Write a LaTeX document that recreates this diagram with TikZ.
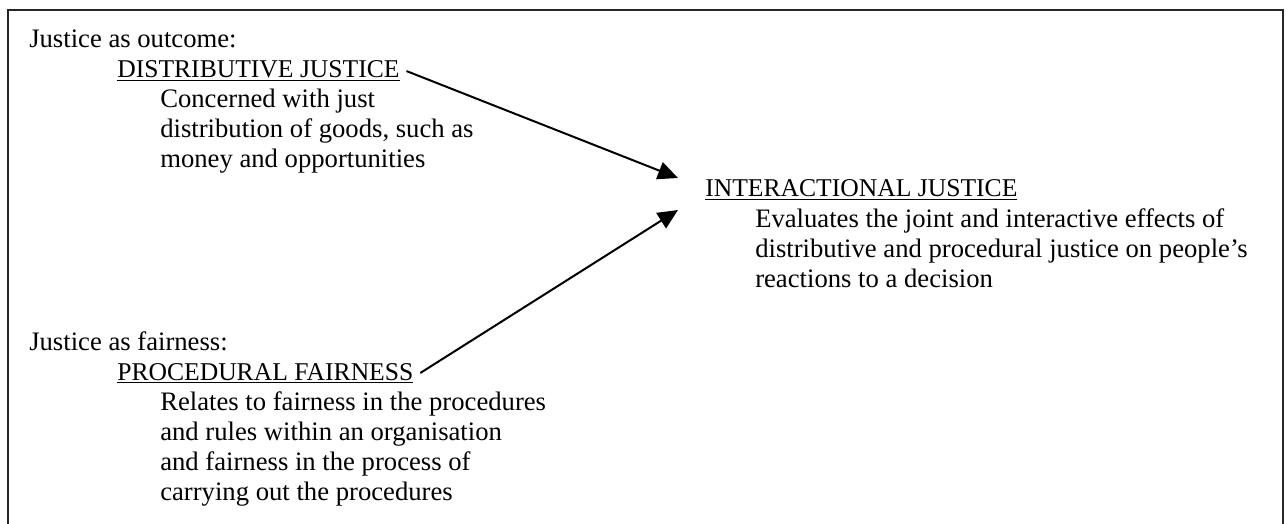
\documentclass[tikz,border=0pt]{standalone}
\usepackage{fontspec}
\setmainfont{Liberation Serif}
\usetikzlibrary{arrows.meta}
\begin{document}
\begin{tikzpicture}[x=0.75pt,y=-0.75pt,
  txt/.style={anchor=base west,inner sep=0pt,font=\fontsize{20}{22.5}\selectfont},
  head/.style={txt,font=\fontsize{19.2}{22.5}\selectfont},
  body/.style={txt,align=left},
  frame/.style={line width=1.4pt,draw=black!85},
  link/.style={line width=1.5pt,-{Triangle[length=15pt,width=13.5pt]}}
]
\useasboundingbox (0,0) rectangle (1286,524);
\draw[frame] (8,530) -- (8,10) -- (1283,10) -- (1283,530);

% the base of a multi-line node is the baseline of its last line
\node[txt] (outc) at (29,48) {Justice as outcome:};
\node[head] (dist) at (117,78) {\underline{DISTRIBUTIVE JUSTICE}};
\node[body] (distb) at (160,168) {Concerned with just\\distribution of goods, such as\\money and opportunities};

\node[txt] (fair) at (29,350) {Justice as fairness:};
\node[head] (proc) at (117,380) {\underline{PROCEDURAL FAIRNESS}};
\node[body] (procb) at (160,500) {Relates to fairness in the procedures\\and rules within an organisation\\and fairness in the process of\\carrying out the procedures};

\node[head] (inter) at (705,197) {\underline{INTERACTIONAL JUSTICE}};
\node[body] (interb) at (755,287) {Evaluates the joint and interactive effects of\\distributive and procedural justice on people's\\reactions to a decision};

\coordinate (t1) at (678,178);
\coordinate (t2) at (678,210);
\draw[link] ([xshift=5pt]dist.east) -- (t1);
\draw[link] ([xshift=5pt]proc.east) -- (t2);
\end{tikzpicture}
\end{document}
